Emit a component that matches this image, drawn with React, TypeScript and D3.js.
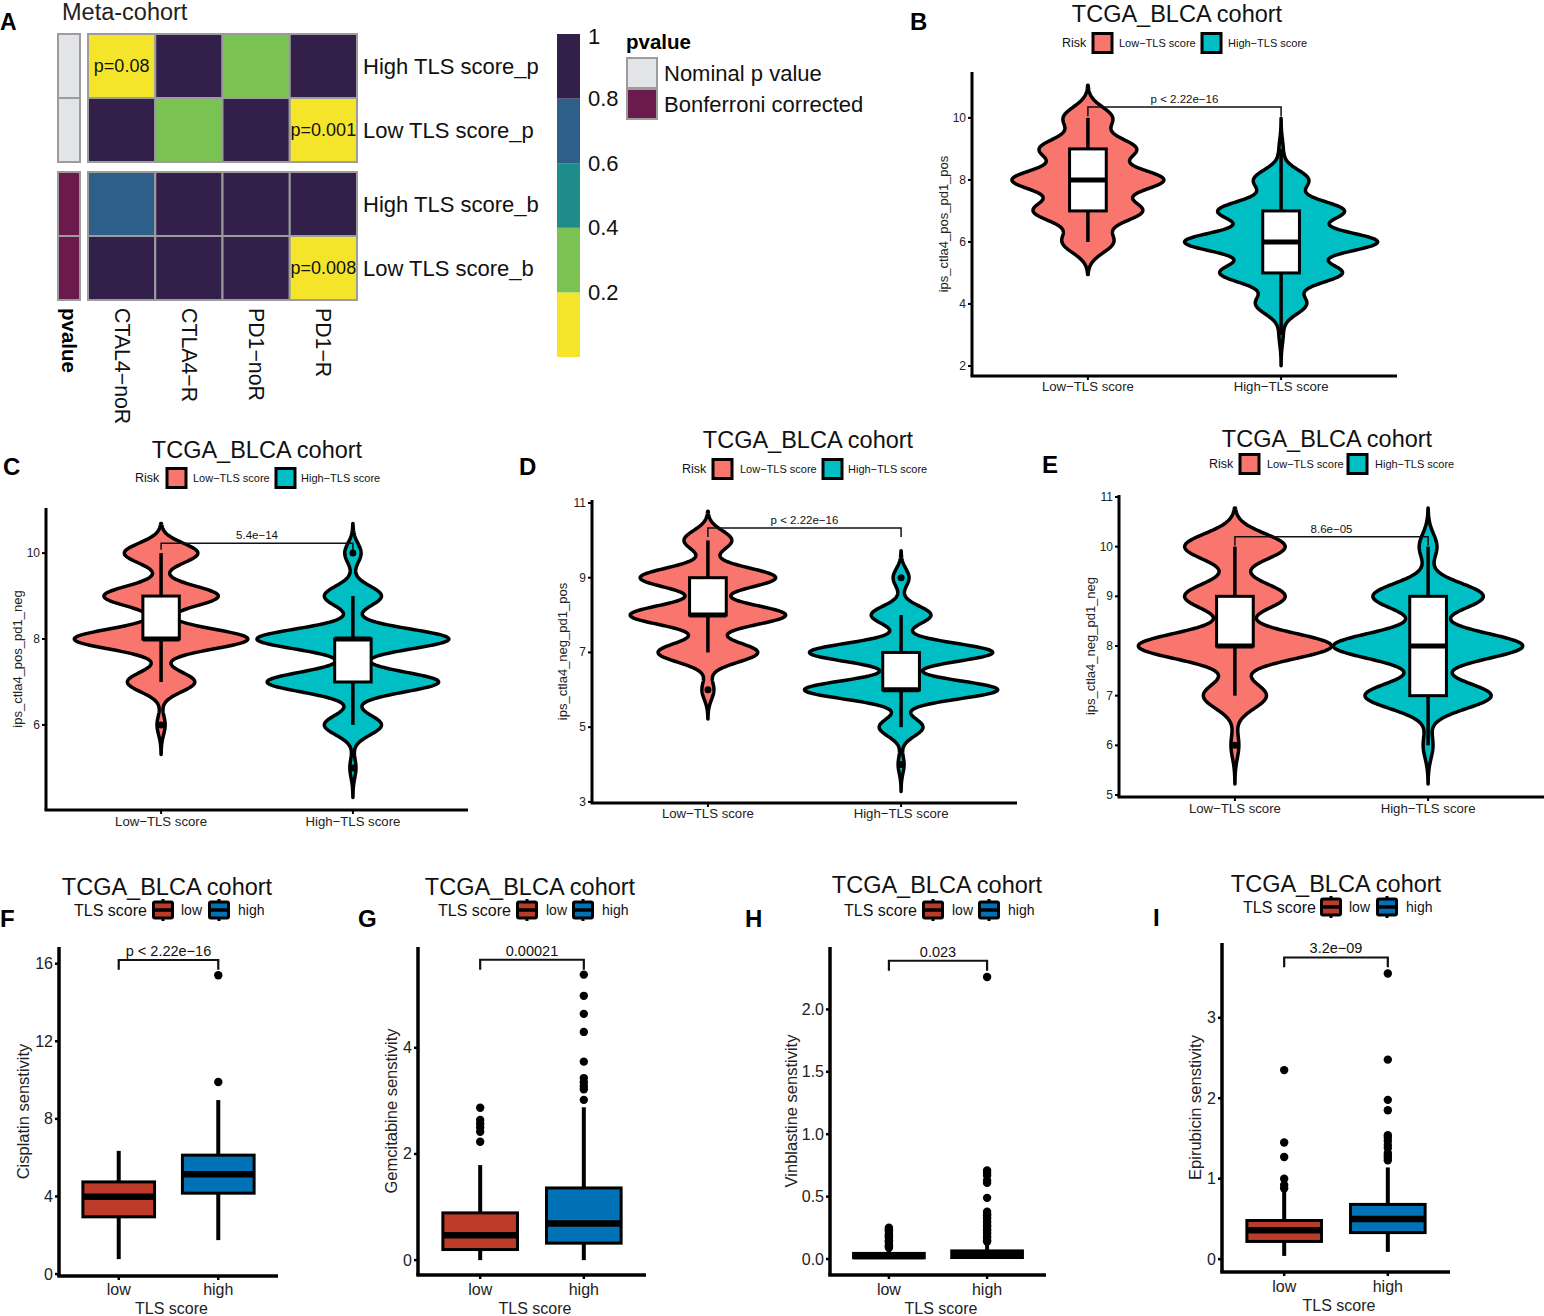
import React from 'react';
import * as d3 from 'd3';

const FONT = "'Liberation Sans', Arial, Helvetica, sans-serif";

// ---------- Panel A : p value heatmap ----------
const heatCols = ['CTAL4−noR', 'CTLA4−R', 'PD1−noR', 'PD1−R'];
const heatRows = ['High TLS score_p', 'Low TLS score_p', 'High TLS score_b', 'Low TLS score_b'];
const heatValues = [
  [0.08, 1, 0.3, 1],
  [1, 0.3, 1, 0.001],
  [0.7, 1, 1, 1],
  [1, 1, 1, 0.008],
];
const heatRowType = ['Nominal p value', 'Nominal p value', 'Bonferroni corrected', 'Bonferroni corrected'];
const pTypes = ['Nominal p value', 'Bonferroni corrected'];
const pTypeColors = ['#E3E4E8', '#6B1A4C'];
const binBreaks = [0.2, 0.4, 0.6, 0.8];
const binColors = ['#F5E52A', '#7AC352', '#1E8C88', '#2E5E8A', '#33204A'];
const barTicks = [0.2, 0.4, 0.6, 0.8, 1];

// ---------- Panels B-E : IPS violins ----------
const riskGroups = ['Low−TLS score', 'High−TLS score'];
const riskColors = ['#F8766D', '#00BFC4'];
const ipsScores = [3, 4, 5, 6, 7, 8, 9, 10];

// counts per score (low, high), kernel bandwidths, box stats [lo, q1, med, q3, hi]
const bCounts = [[0, 0, 0, 25, 53, 74, 47, 24], [2, 25, 60, 95, 62, 27, 2, 0]];
const bBw = [0.35, 0.33];
const bBox = [[6, 7, 8, 9, 10], [3, 5, 6, 7, 9]];
const bOutliers: number[][] = [[], []];

const cCounts = [[0, 0, 0, 4, 33, 85, 56, 36], [0, 0, 3, 28, 84, 94, 28, 8]];
const cBw = [0.23, 0.23];
const cBox = [[7, 8, 8, 9, 10], [6, 7, 8, 8, 9]];
const cOutliers = [[6], [5, 10]];

const dCounts = [[0, 0, 0, 6, 50, 78, 68, 24], [0, 3, 22, 97, 92, 30, 8, 0]];
const dBw = [0.26, 0.24];
const dBox = [[7, 8, 8, 9, 10], [5, 6, 6, 7, 8]];
const dOutliers = [[6], [4, 9]];

const eCounts = [[0, 0, 0, 4, 32, 98, 51, 51], [0, 0, 0, 5, 64, 96, 56, 9]];
const eBw = [0.26, 0.26];
const eBox = [[7, 8, 8, 9, 10], [6, 7, 8, 9, 10]];
const eOutliers: number[][] = [[6], []];

// ---------- Panels F-I : drug sensitivity boxplots ----------
const tlsGroups = ['low', 'high'];
const tlsColors = ['#BC3C29', '#0072B5'];

const fBox = [[0.77, 2.95, 3.98, 4.75, 6.35], [1.75, 4.17, 5.15, 6.13, 8.97]];
const fOutliers = [[], [9.9, 15.4]];

const gBox = [[0, 0.2, 0.47, 0.89, 1.79], [0, 0.32, 0.69, 1.36, 2.88]];
const gOutliers = [
  [2.23, 2.42, 2.5, 2.57, 2.64, 2.87],
  [3.02, 3.22, 3.28, 3.35, 3.43, 3.74, 4.3, 4.64, 4.98, 5.38],
];

const hBox = [[0, 0.01, 0.025, 0.045, 0.08], [0, 0.012, 0.03, 0.065, 0.12]];
const hOutliers = [
  [0.09, 0.1, 0.11, 0.13, 0.14, 0.15, 0.17, 0.18, 0.19, 0.2, 0.22, 0.23, 0.24, 0.25],
  [0.14, 0.15, 0.17, 0.18, 0.2, 0.21, 0.23, 0.24, 0.26, 0.27, 0.29, 0.3, 0.32, 0.33, 0.35, 0.36, 0.38,
    0.49, 0.61, 0.63, 0.67, 0.69, 0.71, 2.26],
];

const iBox = [[0.04, 0.22, 0.36, 0.48, 0.86], [0.09, 0.33, 0.5, 0.68, 1.14]];
const iOutliers = [
  [0.88, 0.92, 1.0, 1.27, 1.45, 2.35],
  [1.23, 1.26, 1.29, 1.32, 1.38, 1.42, 1.47, 1.51, 1.54, 1.85, 1.98, 2.48, 3.55],
];

// layout of each violin panel
const violinPanels = [
  {
    letter: 'B', lx: 910, ly: 30, tx: 1177, ty: 22, legY: 43, leg: [1062, 1093, 1119, 1202, 1228],
    xr: [972, 1397], yr: [376, 72], yd: [1.677, 11.48], ticks: [2, 4, 6, 8, 10],
    yTitle: 'ips_ctla4_pos_pd1_pos', yTitleX: 943, xLabY: 391,
    counts: bCounts, bw: bBw, box: bBox, out: bOutliers, p: 'p < 2.22e−16', bracket: 10.35, tip: 0.3,
  },
  {
    letter: 'C', lx: 3, ly: 475, tx: 257, ty: 458, legY: 478, leg: [135, 167, 193, 276, 301],
    xr: [46, 468], yr: [810, 508], yd: [4.02, 11.05], ticks: [6, 8, 10],
    yTitle: 'ips_ctla4_pos_pd1_neg', yTitleX: 17, xLabY: 826,
    counts: cCounts, bw: cBw, box: cBox, out: cOutliers, p: '5.4e−14', bracket: 10.23, tip: 0.15,
  },
  {
    letter: 'D', lx: 519, ly: 475, tx: 808, ty: 448, legY: 469, leg: [682, 713, 740, 823, 848],
    xr: [592, 1017], yr: [803, 500], yd: [2.97, 11.08], ticks: [3, 5, 7, 9, 11],
    yTitle: 'ips_ctla4_neg_pd1_pos', yTitleX: 562, xLabY: 818,
    counts: dCounts, bw: dBw, box: dBox, out: dOutliers, p: 'p < 2.22e−16', bracket: 10.33, tip: 0.24,
  },
  {
    letter: 'E', lx: 1042, ly: 473, tx: 1327, ty: 447, legY: 464, leg: [1209, 1240, 1267, 1348, 1375],
    xr: [1119, 1544], yr: [797, 495], yd: [4.96, 11.04], ticks: [5, 6, 7, 8, 9, 10, 11],
    yTitle: 'ips_ctla4_neg_pd1_neg', yTitleX: 1090, xLabY: 813,
    counts: eCounts, bw: eBw, box: eBox, out: eOutliers, p: '8.6e−05', bracket: 10.2, tip: 0.18,
  },
];

// layout of each boxplot panel
const boxPanels = [
  {
    letter: 'F', lx: 0, ly: 927, tx: 167, ty: 895, legY: 910, leg: [74, 163, 181, 219, 238],
    xr: [59, 278], yr: [1276, 947], yd: [-0.1, 16.86], ticks: [0, 4, 8, 12, 16], fmt: d3.format('d'),
    yTitle: 'Cisplatin senstivity', yTitleX: 23, xLabY: 1295, xTitleY: 1314,
    box: fBox, out: fOutliers, p: 'p < 2.22e−16', bracket: 16.19, tip: 0.5,
  },
  {
    letter: 'G', lx: 358, ly: 927, tx: 530, ty: 895, legY: 910, leg: [438, 527, 546, 583, 602],
    xr: [418, 646], yr: [1275, 947], yd: [-0.28, 5.9], ticks: [0, 2, 4], fmt: d3.format('d'),
    yTitle: 'Gemcitabine senstivity', yTitleX: 391, xLabY: 1295, xTitleY: 1314,
    box: gBox, out: gOutliers, p: '0.00021', bracket: 5.66, tip: 0.19,
  },
  {
    letter: 'H', lx: 745, ly: 927, tx: 937, ty: 893, legY: 910, leg: [844, 933, 952, 989, 1008],
    xr: [830, 1046], yr: [1275, 947], yd: [-0.128, 2.5], ticks: [0, 0.5, 1, 1.5, 2], fmt: d3.format('.1f'),
    yTitle: 'Vinblastine senstivity', yTitleX: 791, xLabY: 1295, xTitleY: 1314,
    box: hBox, out: hOutliers, p: '0.023', bracket: 2.39, tip: 0.08,
  },
  {
    letter: 'I', lx: 1153, ly: 926, tx: 1336, ty: 892, legY: 907, leg: [1243, 1331, 1349, 1387, 1406],
    xr: [1222, 1450], yr: [1272, 943], yd: [-0.16, 3.93], ticks: [0, 1, 2, 3], fmt: d3.format('d'),
    yTitle: 'Epirubicin senstivity', yTitleX: 1195, xLabY: 1292, xTitleY: 1311,
    box: iBox, out: iOutliers, p: '3.2e−09', bracket: 3.75, tip: 0.12,
  },
];

const Heatmap: React.FC = () => {
  const color = d3.scaleThreshold<number, string>().domain(binBreaks).range(binColors);
  const xBand = d3.scaleBand<string>().domain(heatCols).range([88, 357]);
  const rowH = 64;
  const rowY = (i: number) => 34 + i * rowH + pTypes.indexOf(heatRowType[i]) * 10;
  const cb = d3.scaleLinear().domain([0, 1]).range([357, 34]);
  const edges = [0, ...binBreaks, 1];
  const grid = '#9C9C9C';
  return (
    <g fontFamily={FONT}>
      <text x={0} y={30} fontSize={23} fontWeight="bold">A</text>
      <text x={62} y={20} fontSize={23.5} fill="#222">Meta-cohort</text>
      {heatRows.map((r, i) => (
        <g key={r}>
          <rect x={58} y={rowY(i)} width={22} height={rowH}
            fill={pTypeColors[pTypes.indexOf(heatRowType[i])]} stroke={grid} strokeWidth={2} />
          {heatCols.map((c, j) => (
            <g key={c}>
              <rect x={xBand(c)} y={rowY(i)} width={xBand.bandwidth()} height={rowH}
                fill={color(heatValues[i][j])} stroke={grid} strokeWidth={2} />
              {heatValues[i][j] < 0.1 && (
                <text x={xBand(c)! + xBand.bandwidth() / 2} y={rowY(i) + rowH / 2} fontSize={18}
                  textAnchor="middle" dominantBaseline="central" fill="#111">{`p=${heatValues[i][j]}`}</text>
              )}
            </g>
          ))}
          <text x={363} y={rowY(i) + rowH / 2} fontSize={22} dominantBaseline="central" fill="#111">{r}</text>
        </g>
      ))}
      <text transform={`translate(69,308) rotate(90)`} fontSize={20.5} fontWeight="bold"
        dominantBaseline="central">pvalue</text>
      {heatCols.map((c) => (
        <text key={c} transform={`translate(${xBand(c)! + xBand.bandwidth() / 2},308) rotate(90)`}
          fontSize={21.3} dominantBaseline="central" fill="#111">{c}</text>
      ))}
      {binColors.map((col, k) => (
        <rect key={col} x={557} y={cb(edges[k + 1])} width={23} height={cb(edges[k]) - cb(edges[k + 1])} fill={col} />
      ))}
      {barTicks.map((t) => (
        <text key={t} x={588} y={cb(t) + (t === 1 ? 2 : 0)} fontSize={22} dominantBaseline="central" fill="#111">
          {t === 1 ? '1' : t.toFixed(1)}
        </text>
      ))}
      <text x={626} y={49} fontSize={20.5} fontWeight="bold">pvalue</text>
      {pTypes.map((t, k) => (
        <g key={t}>
          <rect x={627} y={58 + k * 31} width={30} height={30} fill={pTypeColors[k]} stroke={grid} strokeWidth={2} />
          <text x={664} y={73 + k * 31} fontSize={22} dominantBaseline="central" fill="#111">{t}</text>
        </g>
      ))}
    </g>
  );
};

const ViolinPanel: React.FC<{ p: any }> = ({ p }) => {
  const x = d3.scalePoint<string>().domain(riskGroups).range(p.xr).padding(0.6);
  const y = d3.scaleLinear().domain(p.yd).range(p.yr);
  const step = x.step();
  const curves = p.counts.map((cs: number[], gi: number) => {
    const bw = p.bw[gi];
    const present = ipsScores.filter((_, i) => cs[i] > 0);
    const lo = d3.min(present)! - 3 * bw;
    const hi = d3.max(present)! + 3 * bw;
    return d3.range(0, 301).map((k) => {
      const v = lo + ((hi - lo) * k) / 300;
      return { v, d: d3.sum(ipsScores, (s, i) => cs[i] * Math.exp(-0.5 * ((v - s) / bw) ** 2)) };
    });
  });
  const dMax = d3.max(curves.flat() as { d: number }[], (c) => c.d)!;
  const half = d3.scaleLinear().domain([0, dMax]).range([0, step * 0.5]);
  const boxW = step * 0.19;
  const [x1, x2] = riskGroups.map((g) => x(g)!);
  return (
    <g fontFamily={FONT}>
      <text x={p.lx} y={p.ly} fontSize={24} fontWeight="bold">{p.letter}</text>
      <text x={p.tx} y={p.ty} fontSize={23.5} textAnchor="middle" fill="#111">TCGA_BLCA cohort</text>
      <text x={p.leg[0]} y={p.legY} fontSize={12.5} dominantBaseline="central" fill="#111">Risk</text>
      {riskGroups.map((g, i) => (
        <g key={g}>
          <rect x={p.leg[1 + i * 2]} y={p.legY - 9.5} width={19} height={19} fill={riskColors[i]}
            stroke="#000" strokeWidth={3} />
          <text x={p.leg[2 + i * 2]} y={p.legY} fontSize={11} dominantBaseline="central" fill="#111">{g}</text>
        </g>
      ))}
      {riskGroups.map((g, i) => {
        const cx = x(g)!;
        const area = d3.area<{ v: number; d: number }>()
          .y((d) => y(d.v))
          .x0((d) => cx - half(d.d))
          .x1((d) => cx + half(d.d));
        const [lo, q1, med, q3, hi] = p.box[i];
        return (
          <g key={g}>
            <path d={area(curves[i])!} fill={riskColors[i]} stroke="#000" strokeWidth={3.5} strokeLinejoin="round" />
            <line x1={cx} x2={cx} y1={y(lo)} y2={y(q1)} stroke="#000" strokeWidth={3.5} />
            <line x1={cx} x2={cx} y1={y(q3)} y2={y(hi)} stroke="#000" strokeWidth={3.5} />
            <rect x={cx - boxW / 2} y={y(q3)} width={boxW} height={y(q1) - y(q3)} fill="#fff" stroke="#000" strokeWidth={3} />
            <line x1={cx - boxW / 2} x2={cx + boxW / 2} y1={y(med)} y2={y(med)} stroke="#000" strokeWidth={5} />
            {p.out[i].map((o: number, k: number) => (
              <circle key={k} cx={cx} cy={y(o)} r={3.5} fill="#000" />
            ))}
          </g>
        );
      })}
      <path d={`M${x1},${y(p.bracket - p.tip)}V${y(p.bracket)}H${x2}V${y(p.bracket - p.tip)}`}
        fill="none" stroke="#111" strokeWidth={1.5} />
      <text x={(x1 + x2) / 2} y={y(p.bracket) - 4} fontSize={11.5} textAnchor="middle" fill="#111">{p.p}</text>
      <line x1={p.xr[0]} x2={p.xr[0]} y1={p.yr[0]} y2={p.yr[1]} stroke="#000" strokeWidth={3} />
      <line x1={p.xr[0] - 1.5} x2={p.xr[1]} y1={p.yr[0]} y2={p.yr[0]} stroke="#000" strokeWidth={3} />
      {p.ticks.map((t: number) => (
        <g key={t}>
          <line x1={p.xr[0] - 4} x2={p.xr[0]} y1={y(t)} y2={y(t)} stroke="#000" strokeWidth={2} />
          <text x={p.xr[0] - 6} y={y(t)} fontSize={12} textAnchor="end" dominantBaseline="central" fill="#222">{t}</text>
        </g>
      ))}
      {riskGroups.map((g) => (
        <g key={g}>
          <line x1={x(g)} x2={x(g)} y1={p.yr[0]} y2={p.yr[0] + 4} stroke="#000" strokeWidth={2} />
          <text x={x(g)} y={p.xLabY} fontSize={13.2} textAnchor="middle" fill="#222">{g}</text>
        </g>
      ))}
      <text transform={`translate(${p.yTitleX},${(p.yr[0] + p.yr[1]) / 2}) rotate(-90)`} fontSize={13}
        textAnchor="middle" dominantBaseline="central" fill="#222">{p.yTitle}</text>
    </g>
  );
};

const BoxPanel: React.FC<{ p: any }> = ({ p }) => {
  const x = d3.scalePoint<string>().domain(tlsGroups).range(p.xr).padding(0.6);
  const y = d3.scaleLinear().domain(p.yd).range(p.yr);
  const boxW = x.step() * 0.72;
  const [x1, x2] = tlsGroups.map((g) => x(g)!);
  return (
    <g fontFamily={FONT}>
      <text x={p.lx} y={p.ly} fontSize={24} fontWeight="bold">{p.letter}</text>
      <text x={p.tx} y={p.ty} fontSize={23.5} textAnchor="middle" fill="#111">TCGA_BLCA cohort</text>
      <text x={p.leg[0]} y={p.legY} fontSize={16} dominantBaseline="central" fill="#111">TLS score</text>
      {tlsGroups.map((g, i) => {
        const kx = p.leg[1 + i * 2];
        return (
          <g key={g}>
            <line x1={kx} x2={kx} y1={p.legY - 11} y2={p.legY + 11} stroke="#000" strokeWidth={3} />
            <rect x={kx - 9.5} y={p.legY - 8} width={19} height={16} rx={1.5} fill={tlsColors[i]} stroke="#000" strokeWidth={3} />
            <line x1={kx - 8} x2={kx + 8} y1={p.legY} y2={p.legY} stroke="#000" strokeWidth={3.5} />
            <text x={p.leg[2 + i * 2]} y={p.legY} fontSize={14} dominantBaseline="central" fill="#111">{g}</text>
          </g>
        );
      })}
      {tlsGroups.map((g, i) => {
        const cx = x(g)!;
        const [lo, q1, med, q3, hi] = p.box[i];
        return (
          <g key={g}>
            <line x1={cx} x2={cx} y1={y(lo)} y2={y(q1)} stroke="#000" strokeWidth={4} />
            <line x1={cx} x2={cx} y1={y(q3)} y2={y(hi)} stroke="#000" strokeWidth={4} />
            <rect x={cx - boxW / 2} y={y(q3)} width={boxW} height={Math.max(0, y(q1) - y(q3))}
              fill={tlsColors[i]} stroke="#000" strokeWidth={3} />
            <line x1={cx - boxW / 2} x2={cx + boxW / 2} y1={y(med)} y2={y(med)} stroke="#000" strokeWidth={6.5} />
            {p.out[i].map((o: number, k: number) => (
              <circle key={k} cx={cx} cy={y(o)} r={4.2} fill="#000" />
            ))}
          </g>
        );
      })}
      <path d={`M${x1},${y(p.bracket - p.tip)}V${y(p.bracket)}H${x2}V${y(p.bracket - p.tip)}`}
        fill="none" stroke="#111" strokeWidth={2.2} />
      <text x={(x1 + x2) / 2} y={y(p.bracket) - 4} fontSize={14.5} textAnchor="middle" fill="#111">{p.p}</text>
      <line x1={p.xr[0]} x2={p.xr[0]} y1={p.yr[0]} y2={p.yr[1]} stroke="#000" strokeWidth={3.5} />
      <line x1={p.xr[0] - 1.75} x2={p.xr[1]} y1={p.yr[0]} y2={p.yr[0]} stroke="#000" strokeWidth={3.5} />
      {p.ticks.map((t: number) => (
        <g key={t}>
          <line x1={p.xr[0] - 4} x2={p.xr[0]} y1={y(t)} y2={y(t)} stroke="#000" strokeWidth={2.5} />
          <text x={p.xr[0] - 6} y={y(t)} fontSize={16} textAnchor="end" dominantBaseline="central" fill="#222">{p.fmt(t)}</text>
        </g>
      ))}
      {tlsGroups.map((g) => (
        <g key={g}>
          <line x1={x(g)} x2={x(g)} y1={p.yr[0]} y2={p.yr[0] + 4} stroke="#000" strokeWidth={2.5} />
          <text x={x(g)} y={p.xLabY} fontSize={16} textAnchor="middle" fill="#222">{g}</text>
        </g>
      ))}
      <text x={(p.xr[0] + p.xr[1]) / 2 + 3} y={p.xTitleY} fontSize={16} textAnchor="middle" fill="#222">TLS score</text>
      <text transform={`translate(${p.yTitleX},${(p.yr[0] + p.yr[1]) / 2}) rotate(-90)`} fontSize={16.5}
        textAnchor="middle" dominantBaseline="central" fill="#222">{p.yTitle}</text>
    </g>
  );
};

const App: React.FC = () => (
  <svg width={1544} height={1316} viewBox="0 0 1544 1316"
    style={{ position: 'absolute', left: 0, top: 0, background: '#fff' }}>
    <rect width={1544} height={1316} fill="#fff" />
    <Heatmap />
    {violinPanels.map((p) => <ViolinPanel key={p.letter} p={p} />)}
    {boxPanels.map((p) => <BoxPanel key={p.letter} p={p} />)}
  </svg>
);

export default App;
